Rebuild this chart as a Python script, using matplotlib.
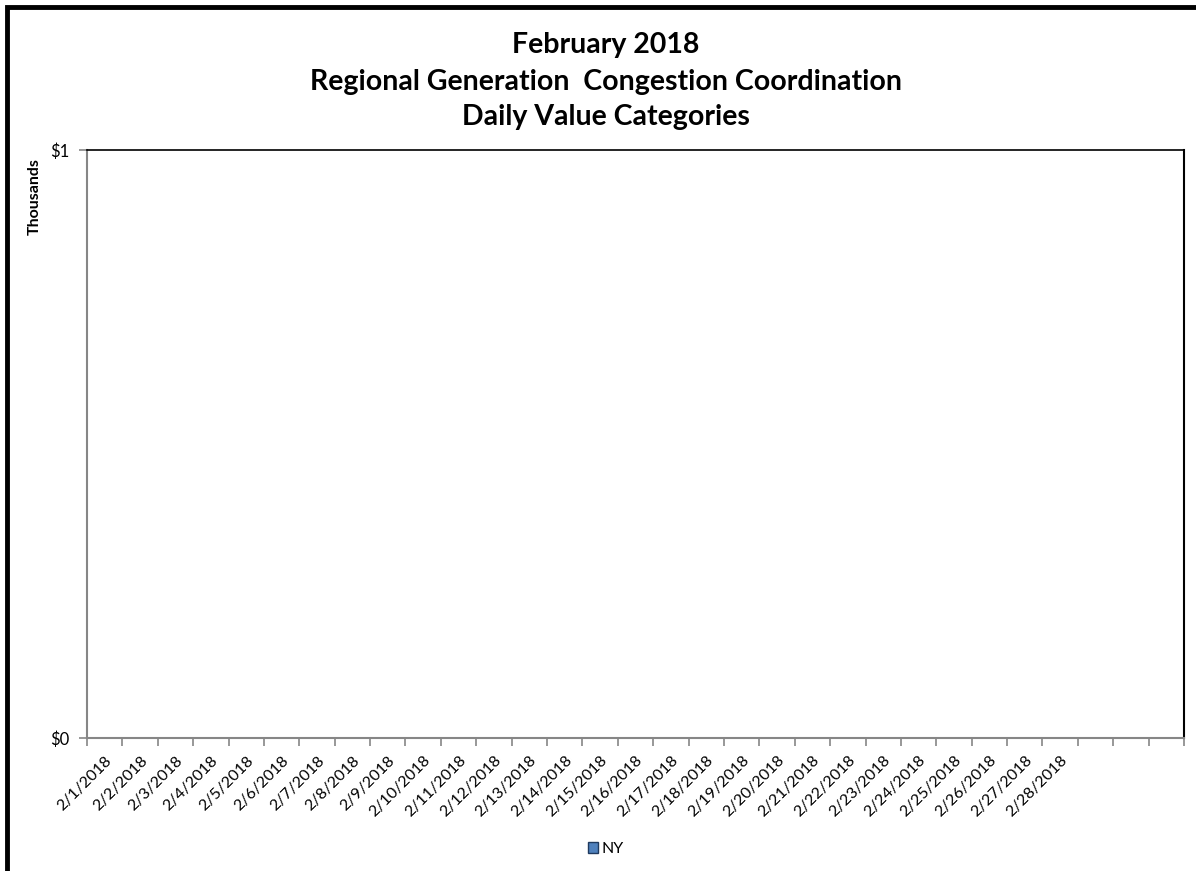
import matplotlib
matplotlib.use("Agg")
import matplotlib.pyplot as plt
from matplotlib.patches import Rectangle, Patch

plt.rcParams['font.family'] = ['Lato', 'DejaVu Sans']

# Data
categories = ["2/1/2018", "2/2/2018", "2/3/2018", "2/4/2018", "2/5/2018", "2/6/2018", "2/7/2018",
              "2/8/2018", "2/9/2018", "2/10/2018", "2/11/2018", "2/12/2018", "2/13/2018", "2/14/2018",
              "2/15/2018", "2/16/2018", "2/17/2018", "2/18/2018", "2/19/2018", "2/20/2018", "2/21/2018",
              "2/22/2018", "2/23/2018", "2/24/2018", "2/25/2018", "2/26/2018", "2/27/2018", "2/28/2018",
              "", "", ""]
ny_values = [0, 0, 0, 0, 0, 0, 0, 0, 0, 0, 0, 0, 0, 0, 0, 0, 0, 0, 0, 0, 0, 0, 0, 0, 0, 0, 0, 0,
             0, 0, 0]
y_ticks = [0, 1]
y_tick_labels = ["$0", "$1"]
series_name = "NY"
title_lines = ["February 2018", "Regional Generation  Congestion Coordination", "Daily Value Categories"]

W, H = 1196, 871
fig = plt.figure(figsize=(W / 100, H / 100), dpi=100)
fig.patch.set_facecolor("white")

# outer border (extends past right/bottom edges)
fig.patches.append(Rectangle((7 / W, -0.05), 1.2, 1 - 7 / H + 0.05, transform=fig.transFigure,
                             fill=False, edgecolor="black", linewidth=3.5, zorder=10))

ax = fig.add_axes([87 / W, 1 - 738 / H, (1184 - 87) / W, (738 - 150) / H])
n = len(categories)
xs = [i + 0.5 for i in range(n)]
ax.bar(xs, ny_values, width=0.6, color="#4F81BD", edgecolor="#385D8A", linewidth=1)
ax.set_xlim(0, n)
ax.set_ylim(0, 1)

gray = "#868686"
ax.spines['left'].set_color(gray)
ax.spines['bottom'].set_color(gray)
ax.spines['left'].set_linewidth(1.5)
ax.spines['bottom'].set_linewidth(1.5)
ax.spines['top'].set_color("black")
ax.spines['right'].set_color("black")
ax.spines['top'].set_linewidth(1.2)
ax.spines['right'].set_linewidth(1.5)

ax.set_xticks(range(n + 1))
ax.set_xticklabels([])
ax.set_xticks(xs, minor=True)
ax.set_xticklabels(categories, minor=True, rotation=45, ha='right', rotation_mode='anchor', fontsize=11.5)
ax.tick_params(axis='x', which='major', length=6, width=1.2, color=gray, direction='out')
ax.tick_params(axis='x', which='minor', length=0, pad=11)

ax.set_yticks(y_ticks)
ax.set_yticklabels(y_tick_labels, fontsize=12)
ax.tick_params(axis='y', length=6, width=1.2, color=gray, direction='out', pad=7)

fig.text(35 / W, 1 - 197 / H, "Thousands", rotation=90, ha='center', va='center', fontsize=11.5, fontweight='bold')

# title
centers = [(606, 45), (606, 82), (606, 117)]
for line, (cx, cy) in zip(title_lines, centers):
    fig.text(cx / W, 1 - cy / H, line, ha='center', va='center', fontsize=20.5, fontweight='bold')

# legend
handle = Patch(facecolor="#4F81BD", edgecolor="#1F3A5F", linewidth=1)
fig.legend([handle], [series_name], loc='center', bbox_to_anchor=(606 / W, 1 - 849 / H), frameon=False,
           fontsize=11.5, handlelength=0.65, handleheight=0.65, handletextpad=0.2)

fig.savefig("out.png", dpi=100, facecolor="white")
